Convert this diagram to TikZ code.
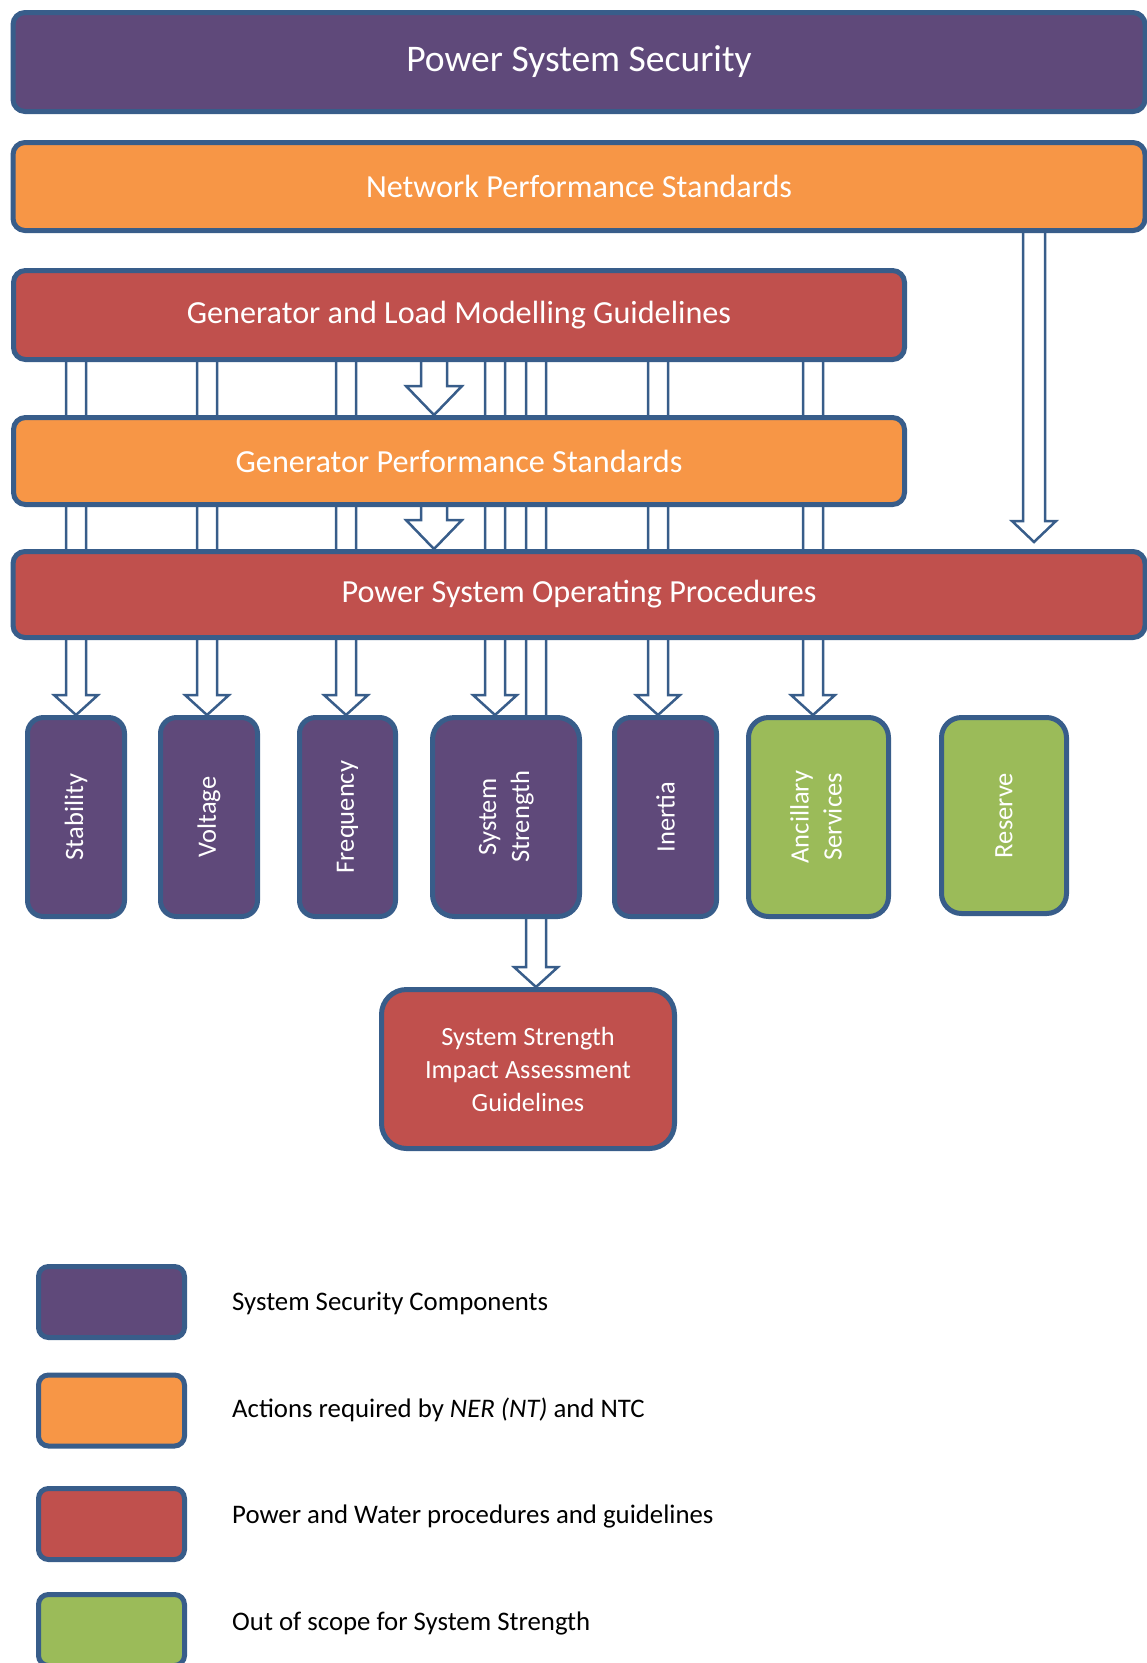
\documentclass[tikz,border=0pt]{standalone}
\usepackage{fontspec}
\setmainfont{Carlito}
\usetikzlibrary{calc,backgrounds}

\definecolor{pwline}{HTML}{385D8A}
\definecolor{pwpurple}{HTML}{5F497A}
\definecolor{pworange}{HTML}{F79646}
\definecolor{pwred}{HTML}{C0504D}
\definecolor{pwgreen}{HTML}{9BBB59}

% x, from, to, half shaft, half head, head length, gap
\newcommand{\blockarrow}[7]{%
	\path (#1,0 |- #2.south) coordinate (arrtop);
	\path (#1,0 |- #3.north) ++(0,-#7) coordinate (arrtip);
	\draw[arrowline] ($(arrtop)+(-#4,-6)$) -- ($(arrtip)+(-#4,-#6)$) -- ($(arrtip)+(-#5,-#6)$)
		-- (arrtip) -- ($(arrtip)+(#5,-#6)$) -- ($(arrtip)+(#4,-#6)$) -- ($(arrtop)+(#4,-6)$) -- cycle;
}

\begin{document}
\begin{tikzpicture}[x=1pt,y=-1pt,
	box/.style={draw=pwline,line width=5pt,rounded corners=12pt,text=white,inner sep=0pt,
		font=\fontsize{32.2}{38}\selectfont},
	comp/.style={box,rounded corners=16pt,minimum height=199pt,font=\fontsize{26.5}{33}\selectfont},
	key/.style={box,rounded corners=10pt,minimum width=146pt,minimum height=71pt},
	keytext/.style={anchor=west,inner sep=0pt,font=\fontsize{26.8}{32}\selectfont},
	arrowline/.style={draw=pwline,line width=2.5pt,fill=white}]
	\useasboundingbox (0,0) rectangle (1147,1663);

	\node[box,fill=pwpurple,minimum width=1132pt,minimum height=99pt,font=\fontsize{37.6}{44}\selectfont] (pss) at (579,62) {Power System Security};
	\node[box,fill=pworange,minimum width=1132pt,minimum height=88pt] (nps) at (579,186.5) {Network Performance Standards};
	\node[box,fill=pwred,minimum width=891pt,minimum height=89pt] (glmg) at (459,315) {Generator and Load Modelling Guidelines};
	\node[box,fill=pworange,minimum width=891pt,minimum height=87pt] (gps) at (459,461) {Generator Performance Standards};
	\node[box,fill=pwred,minimum width=1132pt,minimum height=86pt] (psop) at (579,594.5) {Power System Operating Procedures};

	\node[comp,fill=pwpurple,minimum width=97pt] (stab) at (76,817) {\rotatebox{90}{Stability}};
	\node[comp,fill=pwpurple,minimum width=97pt] (volt) at (209,817) {\rotatebox{90}{Voltage}};
	\node[comp,fill=pwpurple,minimum width=96pt] (freq) at (347.5,817) {\rotatebox{90}{Frequency}};
	\node[comp,fill=pwpurple,minimum width=147pt,rounded corners=22pt] (sstr) at (506,817) {\rotatebox{90}{\begin{tabular}{@{}c@{}}System\\Strength\end{tabular}}};
	\node[comp,fill=pwpurple,minimum width=102pt] (iner) at (665.5,817) {\rotatebox{90}{Inertia}};
	\node[comp,fill=pwgreen,minimum width=140pt,rounded corners=20pt] (anc) at (818.5,817) {\rotatebox{90}{\begin{tabular}{@{}c@{}}Ancillary\\Services\end{tabular}}};
	\node[comp,fill=pwgreen,minimum width=125pt,minimum height=196pt,rounded corners=20pt] (res) at (1004,815.5) {\rotatebox{90}{Reserve}};

	\node[box,fill=pwred,minimum width=293pt,minimum height=159pt,rounded corners=25pt,align=center,
		font=\fontsize{26.3}{33}\selectfont] (ssiag) at (528,1069) {System Strength\\Impact Assessment\\Guidelines};

	\begin{scope}[on background layer]
		\blockarrow{76}{glmg}{stab}{10}{22}{20}{0}
		\blockarrow{207}{glmg}{volt}{10}{22}{20}{0}
		\blockarrow{346}{glmg}{freq}{10}{22}{20}{0}
		\blockarrow{495}{glmg}{sstr}{10}{22}{20}{0}
		\blockarrow{536}{glmg}{ssiag}{10}{22}{20}{0}
		\blockarrow{658}{glmg}{iner}{10}{22}{20}{0}
		\blockarrow{813}{glmg}{anc}{10}{22}{20}{0}
		\blockarrow{434}{glmg}{gps}{13}{28}{29}{0}
		\blockarrow{434}{gps}{psop}{13}{28}{29}{0}
		\blockarrow{1034}{nps}{psop}{11}{22}{21}{7}
	\end{scope}

	% legend
	\node[key,fill=pwpurple] (keysec) at (111.5,1302) {};
	\node[key,fill=pworange] (keyact) at (111.5,1410.5) {};
	\node[key,fill=pwred] (keypw) at (111.5,1524) {};
	\node[key,fill=pwgreen] (keyout) at (111.5,1630) {};
	\node[keytext] (txtsec) at (232,1303) {System Security Components};
	\node[keytext] (txtact) at (232,1410) {Actions required by \textit{NER (NT)} and NTC};
	\node[keytext] (txtpw) at (232,1516) {Power and Water procedures and guidelines};
	\node[keytext] (txtout) at (232,1623) {Out of scope for System Strength};
\end{tikzpicture}
\end{document}
